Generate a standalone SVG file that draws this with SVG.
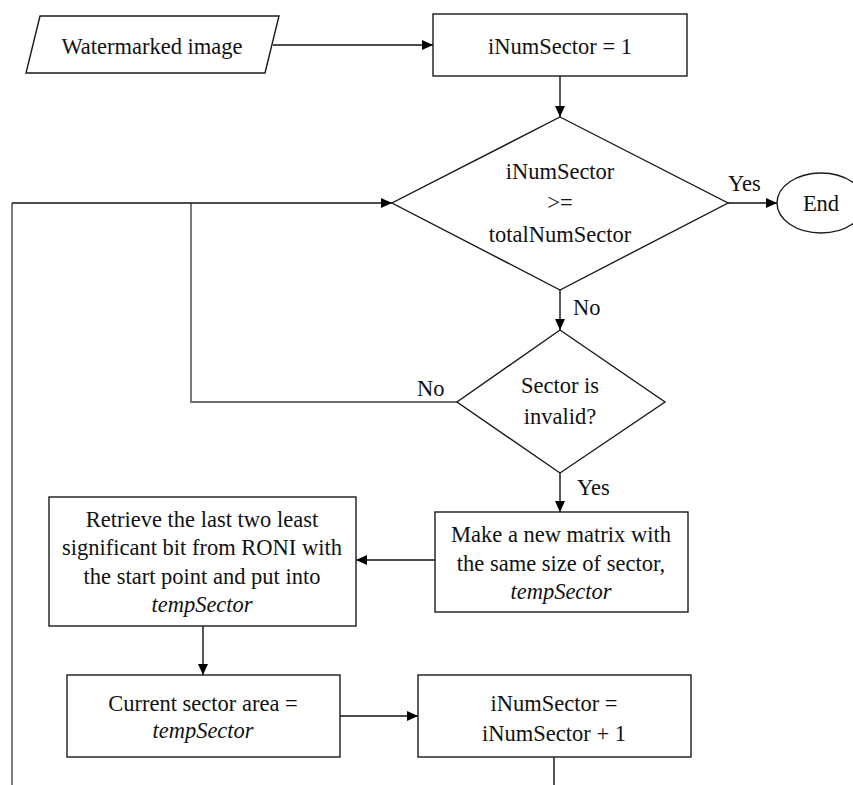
<svg xmlns="http://www.w3.org/2000/svg" width="853" height="785" viewBox="0 0 853 785">
<defs>
<marker id="ah" markerUnits="userSpaceOnUse" markerWidth="12" markerHeight="10" refX="11" refY="5" orient="auto">
<path d="M0,0 L11,5 L0,10 Z" fill="#000"/>
</marker>
<style>
.s{fill:#fff;stroke:#1a1a1a;stroke-width:1.4}
.t{font-size:22.5px;fill:#111;text-anchor:middle}
.i{font-style:italic}
.l{font-size:22.5px;fill:#111}
.c{fill:none;stroke:#111;stroke-width:1.4}
.g{fill:none;stroke:#6e6e6e;stroke-width:1.8}
</style>
</defs>
<rect width="853" height="785" fill="#fff"/>
<g font-family="'Liberation Serif', 'Times New Roman', 'DejaVu Serif', serif">
<g id="connectors">
<line class="c" x1="273" y1="45" x2="433" y2="45" marker-end="url(#ah)"/>
<line class="c" x1="560" y1="76" x2="560" y2="117" marker-end="url(#ah)"/>
<line class="c" x1="728" y1="203" x2="777" y2="203" marker-end="url(#ah)"/>
<line class="c" x1="560" y1="290" x2="560" y2="330" marker-end="url(#ah)"/>
<line class="c" x1="560" y1="473" x2="560" y2="512" marker-end="url(#ah)"/>
<line class="c" x1="435" y1="560" x2="356" y2="560" marker-end="url(#ah)"/>
<line class="c" x1="203" y1="626" x2="203" y2="675" marker-end="url(#ah)"/>
<line class="c" x1="340" y1="716" x2="418" y2="716" marker-end="url(#ah)"/>
<line class="c" x1="554" y1="757" x2="554" y2="785"/>
<polyline class="g" points="457,402 191,402 191,203"/>
<line class="g" x1="12" y1="785" x2="12" y2="203"/>
<line class="c" x1="12" y1="203" x2="392" y2="203" marker-end="url(#ah)"/>
<text class="l" x="728" y="191">Yes</text>
<text class="l" x="573" y="315">No</text>
<text class="l" x="417" y="396">No</text>
<text class="l" x="577" y="495">Yes</text>
</g>
<g id="input">
<polygon class="s" points="40,16 279,16 265,73 26,73"/>
<text class="t" x="152" y="54">Watermarked image</text>
</g>
<g id="init">
<rect class="s" x="433" y="14" width="254" height="62"/>
<text class="t" x="560" y="54">iNumSector = 1</text>
</g>
<g id="check-total">
<polygon class="s" points="560,117 728,203 560,290 392,203"/>
<text class="t" x="560" y="179">iNumSector</text>
<text class="t" x="560" y="210">&gt;=</text>
<text class="t" x="560" y="242">totalNumSector</text>
</g>
<g id="end">
<ellipse class="s" cx="821" cy="203" rx="44" ry="30"/>
<text class="t" x="821" y="211">End</text>
</g>
<g id="check-invalid">
<polygon class="s" points="560,330 665,402 560,473 457,402"/>
<text class="t" x="560" y="393">Sector is</text>
<text class="t" x="560" y="424">invalid?</text>
</g>
<g id="make-matrix">
<rect class="s" x="435" y="512" width="253" height="100"/>
<text class="t" x="561" y="542">Make a new matrix with</text>
<text class="t" x="561" y="571">the same size of sector,</text>
<text class="t i" x="561" y="599">tempSector</text>
</g>
<g id="retrieve">
<rect class="s" x="49" y="497" width="307" height="129"/>
<text class="t" x="202" y="527">Retrieve the last two least</text>
<text class="t" x="202" y="555">significant bit from RONI with</text>
<text class="t" x="202" y="584">the start point and put into</text>
<text class="t i" x="202" y="612">tempSector</text>
</g>
<g id="current-area">
<rect class="s" x="67" y="675" width="273" height="82"/>
<text class="t" x="203" y="711">Current sector area =</text>
<text class="t i" x="203" y="738">tempSector</text>
</g>
<g id="increment">
<rect class="s" x="418" y="675" width="273" height="82"/>
<text class="t" x="554" y="711">iNumSector =</text>
<text class="t" x="554" y="741">iNumSector + 1</text>
</g>
</g>
</svg>
